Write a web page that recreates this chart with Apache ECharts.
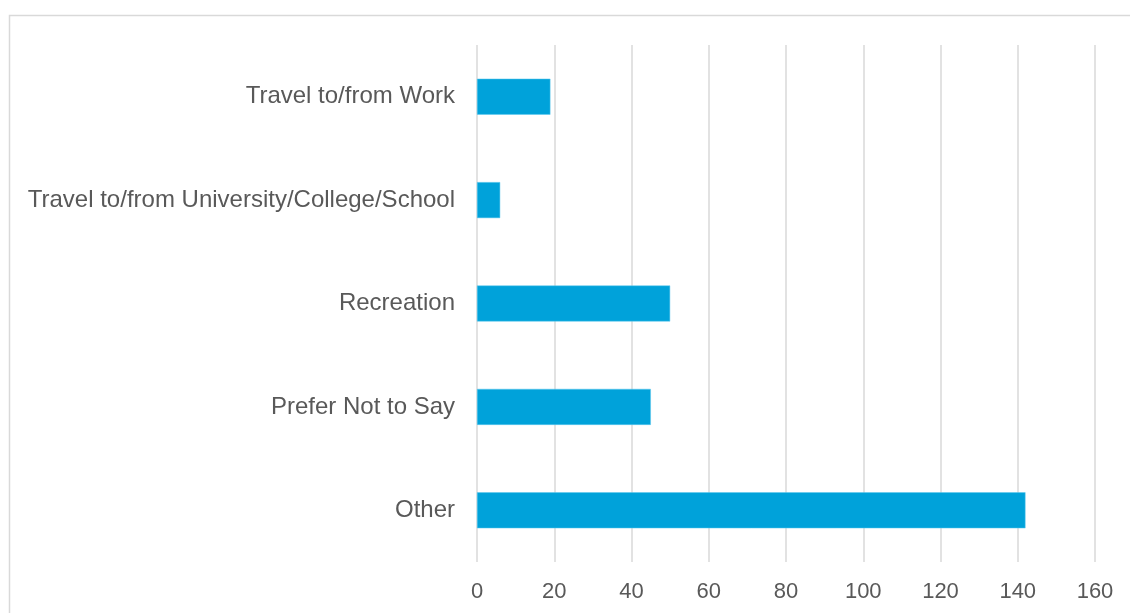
<!DOCTYPE html>
<html>
<head>
<meta charset="utf-8">
<script src="https://cdn.jsdelivr.net/npm/echarts@6/dist/echarts.min.js"></script>
<style>
  html, body { margin: 0; padding: 0; background: #fff; }
  #chart { width: 1130px; height: 613px; }
</style>
</head>
<body>
<div id="chart"></div>
<script>
// Trip purposes, listed top to bottom
const categories = [
  'Travel to/from Work',
  'Travel to/from University/College/School',
  'Recreation',
  'Prefer Not to Say',
  'Other'
];
const counts = [19, 6, 50, 45, 142];
const xTicks = { min: 0, max: 160, interval: 20 };

const chart = echarts.init(document.getElementById('chart'));
chart.setOption({
  animation: false,
  backgroundColor: '#ffffff',
  graphic: [{
    type: 'rect',
    silent: true,
    shape: { x: 9.5, y: 15.5, width: 1200, height: 700 },
    style: { fill: 'none', stroke: '#d9d9d9', lineWidth: 1.5 }
  }],
  grid: { left: 477, right: 35, top: 45, bottom: 51, containLabel: false },
  xAxis: {
    type: 'value',
    min: xTicks.min,
    max: xTicks.max,
    interval: xTicks.interval,
    axisLine: { show: false },
    axisTick: { show: false },
    splitLine: { show: true, lineStyle: { color: '#d9d9d9', width: 1.5 } },
    axisLabel: {
      color: '#595959',
      fontFamily: 'Liberation Sans, Arial, sans-serif',
      fontSize: 22,
      margin: 19
    }
  },
  yAxis: {
    type: 'category',
    inverse: true,
    data: categories,
    axisLine: { show: false },
    axisTick: { show: false },
    splitLine: { show: false },
    axisLabel: {
      color: '#595959',
      fontFamily: 'Liberation Sans, Arial, sans-serif',
      fontSize: 24,
      margin: 22,
      padding: [3, 0, 0, 0]
    }
  },
  series: [{
    type: 'bar',
    data: counts,
    barWidth: 36,
    itemStyle: { color: '#00a2da', borderColor: '#5cc8ee', borderWidth: 0.5 }
  }]
});
</script>
</body>
</html>
